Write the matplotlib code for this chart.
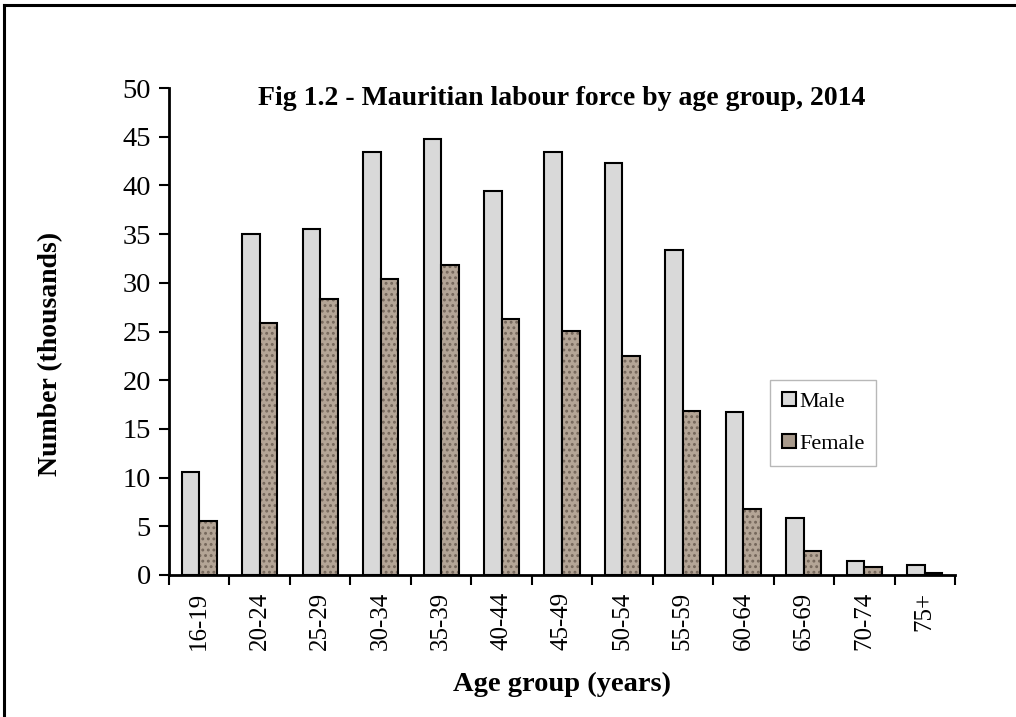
import matplotlib.pyplot as plt
import numpy as np
from matplotlib.lines import Line2D
from matplotlib.patches import Patch

age_groups = ['16-19', '20-24', '25-29', '30-34', '35-39', '40-44', '45-49',
              '50-54', '55-59', '60-64', '65-69', '70-74', '75+']
male = [10.6, 35.0, 35.5, 43.4, 44.8, 39.4, 43.4, 42.3, 33.4, 16.7, 5.9, 1.4, 1.0]
female = [5.5, 25.9, 28.3, 30.4, 31.8, 26.3, 25.1, 22.5, 16.8, 6.8, 2.5, 0.8, 0.2]

plt.rcParams['font.family'] = ['Liberation Serif', 'DejaVu Serif']
plt.rcParams['hatch.linewidth'] = 1.3

fig = plt.figure(figsize=(10.16, 7.17), dpi=100)
ax = fig.add_axes([169/1016, 1 - 575/717, (955 - 169)/1016, (575 - 88)/717])

x = np.arange(len(age_groups))
w = 0.29
ax.bar(x - w/2, male, width=w, color='#d9d9d9', edgecolor='black',
       linewidth=1.5, label='Male')
# textured female bars: fill + speckle hatch, then black outline on top
ax.bar(x + w/2, female, width=w, color='#b4a596', edgecolor='#75675b',
       linewidth=0, hatch='...')
ax.bar(x + w/2, female, width=w, color='none', edgecolor='black',
       linewidth=1.5)
handles = [Patch(facecolor='#d9d9d9', edgecolor='black', linewidth=1.5, label='Male'),
           Patch(facecolor='#a89a8c', edgecolor='black', linewidth=1.5, label='Female')]

ax.set_xlim(-0.5, len(age_groups) - 0.5)
ax.set_ylim(0, 50)
ax.set_yticks(np.arange(0, 51, 5))
ax.tick_params(axis='y', labelsize=20.5, length=7, width=1.5, direction='out', pad=6)

ax.set_xticks(np.arange(-0.5, len(age_groups), 1))
ax.set_xticklabels([])
ax.tick_params(axis='x', which='major', length=7, width=1.5, direction='out')
ax.set_xticks(x, minor=True)
ax.set_xticklabels(age_groups, minor=True, rotation=90, fontsize=18)
ax.tick_params(axis='x', which='minor', length=0, pad=12)

for s in ['top', 'right']:
    ax.spines[s].set_visible(False)
for s in ['left', 'bottom']:
    ax.spines[s].set_linewidth(2)

ax.text(0.5, 1.005, 'Fig 1.2 - Mauritian labour force by age group, 2014',
        transform=ax.transAxes, ha='center', va='top', fontsize=20,
        fontweight='bold')
ax.set_ylabel('Number (thousands)', fontsize=20, fontweight='bold', va='center')
ax.yaxis.set_label_coords((51 - 169)/786, (575 - 354)/487)
ax.set_xlabel('Age group (years)', fontsize=20.5, fontweight='bold', va='center')
ax.xaxis.set_label_coords(0.5, (575 - 684)/487)

leg = ax.legend(handles=handles, loc='upper left',
                bbox_to_anchor=((770 - 169)/786, (575 - 380)/487),
                fontsize=16, frameon=True, fancybox=False, handlelength=0.6,
                handleheight=0.6, handletextpad=0.15, labelspacing=1.0,
                borderpad=0.55, borderaxespad=0)
leg.get_frame().set_edgecolor('#a6a6a6')
leg.get_frame().set_linewidth(1)

# outer frame (only top and left visible in the reference)
fig.add_artist(Line2D([4/1016, 1], [1 - 5/717, 1 - 5/717], color='black', lw=2.2,
                      transform=fig.transFigure))
fig.add_artist(Line2D([4/1016, 4/1016], [0, 1 - 5/717], color='black', lw=2.2,
                      transform=fig.transFigure))

fig.savefig('out.png', dpi=100)
